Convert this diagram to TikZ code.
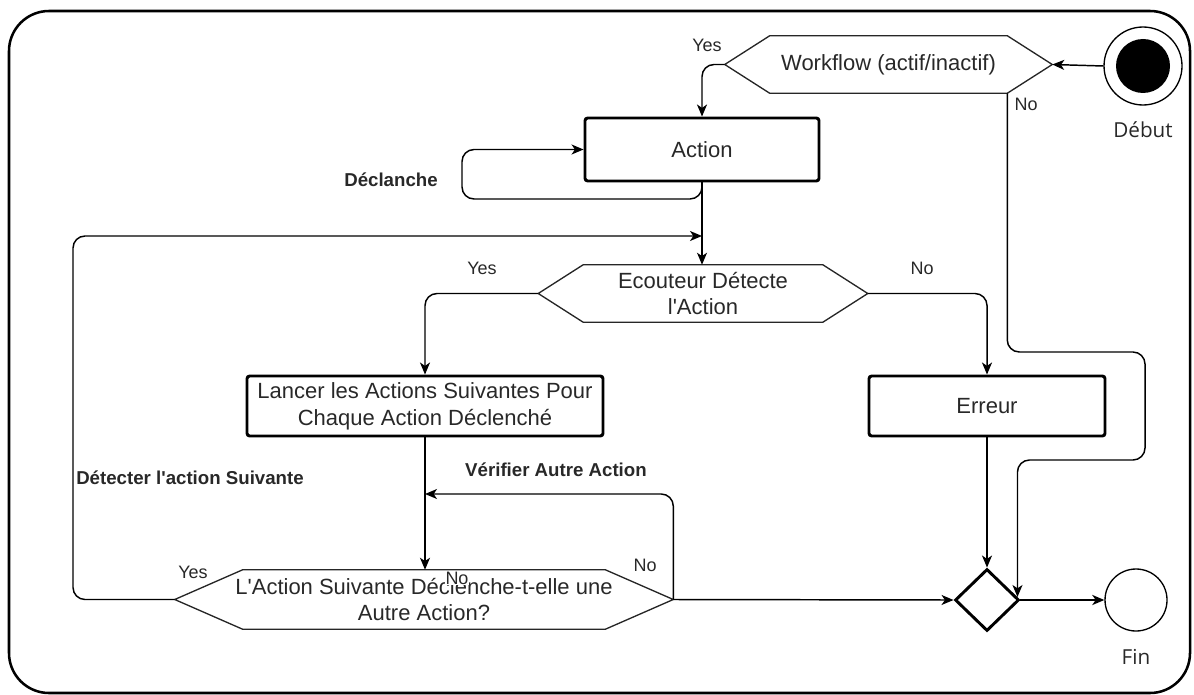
\documentclass[tikz,border=0pt]{standalone}
\usepackage{fontspec}
\setmainfont{Liberation Sans}[Ligatures=TeXOff]
\newfontfamily\labelfont{Open Sans}
\usetikzlibrary{arrows.meta,calc,shapes.geometric}
\definecolor{ink}{RGB}{40,40,40}
% outline of a decision hexagon built around a text node
\newcommand\hexoutline[2]{%
  \draw[hexline] (#1.west) -- ($(#1.north west)+(#2,0)$) -- ($(#1.north east)+(-#2,0)$)
    -- (#1.east) -- ($(#1.south east)+(-#2,0)$) -- ($(#1.south west)+(#2,0)$) -- cycle;}
\begin{document}
\begin{tikzpicture}[x=0.75pt,y=-0.75pt,
  txt/.style={text=ink,font=\fontsize{16.5}{20}\selectfont},
  box/.style={txt,draw=black,line width=2.2pt,rounded corners=2pt,align=center,inner sep=0pt},
  hexnode/.style={txt,align=center,inner sep=0pt},
  hexline/.style={draw=black!85,line width=1pt},
  conn/.style={draw=black,line width=1.1pt,rounded corners=9pt,-{Stealth[length=9pt,width=7.5pt,inset=2.5pt]}},
  tag/.style={text=ink,font=\fontsize{13.5}{16}\selectfont,inner sep=1pt},
  note/.style={text=ink,font=\bfseries\fontsize{14}{17}\selectfont,inner sep=1pt},
  capt/.style={text=ink,font=\labelfont\fontsize{15.5}{18}\selectfont,inner sep=1pt},
]
\useasboundingbox (0,0) rectangle (1194,695);
% outer frame
\draw[line width=1.9pt,rounded corners=30pt] (9,11) rectangle (1190,693);

% start and end
\node[circle,draw=black,line width=1pt,minimum size=58.5pt,inner sep=0pt] (start) at (1143,66) {};
\node[circle,fill=black,minimum size=40.5pt,inner sep=0pt] (startdot) at (start) {};
\node[capt] (startlbl) at (1143,130) {Début};
\node[circle,draw=black,line width=1pt,minimum size=46.5pt,inner sep=0pt] (fin) at (1136,600) {};
\node[capt] (finlbl) at (1136,657) {Fin};

% decisions
\node[hexnode,minimum width=245.25pt,minimum height=42.75pt] (wf) at (888.5,64.5) {Workflow (actif/inactif)};
\hexoutline{wf}{45}
\node[hexnode,minimum width=246.75pt,minimum height=42.75pt] (ecout) at (703,293.5) {Ecouteur Détecte\\l'Action};
\hexoutline{ecout}{45}
\node[hexnode,minimum width=373.5pt,minimum height=44.25pt] (suiv) at (424,599.5) {L'Action Suivante Déclenche-t-elle une\\Autre Action?};
\hexoutline{suiv}{68}
\node[diamond,draw=black,line width=2.2pt,minimum width=48pt,minimum height=46.5pt,inner sep=0pt] (merge) at (987,600) {};

% activities
\node[box,minimum width=175.5pt,minimum height=47.25pt] (action) at (702,149.5) {Action};
\node[box,minimum width=267pt,minimum height=45pt] (lancer) at (425,406) {Lancer les Actions Suivantes Pour\\Chaque Action Déclenché};
\node[box,minimum width=177pt,minimum height=45pt] (erreur) at (987,406) {Erreur};

% helper points on the flow
\coordinate (wfse) at ($(wf.south east)+(-45,0)$);
\coordinate (mergene) at ($(merge.east)+(-3,-3)$);
\coordinate (j1) at (702,236);
\coordinate (j2) at (425,494);

% connectors
\draw[conn] (start.west) -- (wf.east);
\draw[conn] (wf.west) -| (action.north);
\draw[conn] (wfse) |- (1145,352) -- (1145,460) -| (mergene);
\draw[conn] (action.south) |- (462,199) |- (action.west);
\draw[conn] (action.south) -- (action.south |- ecout.north);
\draw[conn] (suiv.west) -| (73,236) -- (j1);
\draw[conn] (ecout.west) -| (lancer.north);
\draw[conn] (ecout.east) -| (erreur.north);
\draw[conn] (lancer.south) -- (lancer.south |- suiv.north);
\draw[conn] (suiv.east) |- (j2);
\draw[conn] (suiv.east) -- (merge.west);
\draw[conn] (erreur.south) -- (merge.north);
\draw[conn,line width=1.8pt] (merge.east) -- (fin.west);

% edge labels
\node[tag] (l1) at (707,45) {Yes};
\node[tag] (l2) at (1026,104) {No};
\node[note] (l3) at (391,180) {Déclanche};
\node[tag] (l4) at (482,268) {Yes};
\node[tag] (l5) at (922,268) {No};
\node[note] (l6) at (190,478) {Détecter l'action Suivante};
\node[note] (l7) at (556,470) {Vérifier Autre Action};
\node[tag] (l8) at (193,572) {Yes};
\node[tag] (l9) at (645,565) {No};
\node[tag,fill=white,inner sep=0.5pt] (l10) at (457,578) {No};
\end{tikzpicture}
\end{document}
